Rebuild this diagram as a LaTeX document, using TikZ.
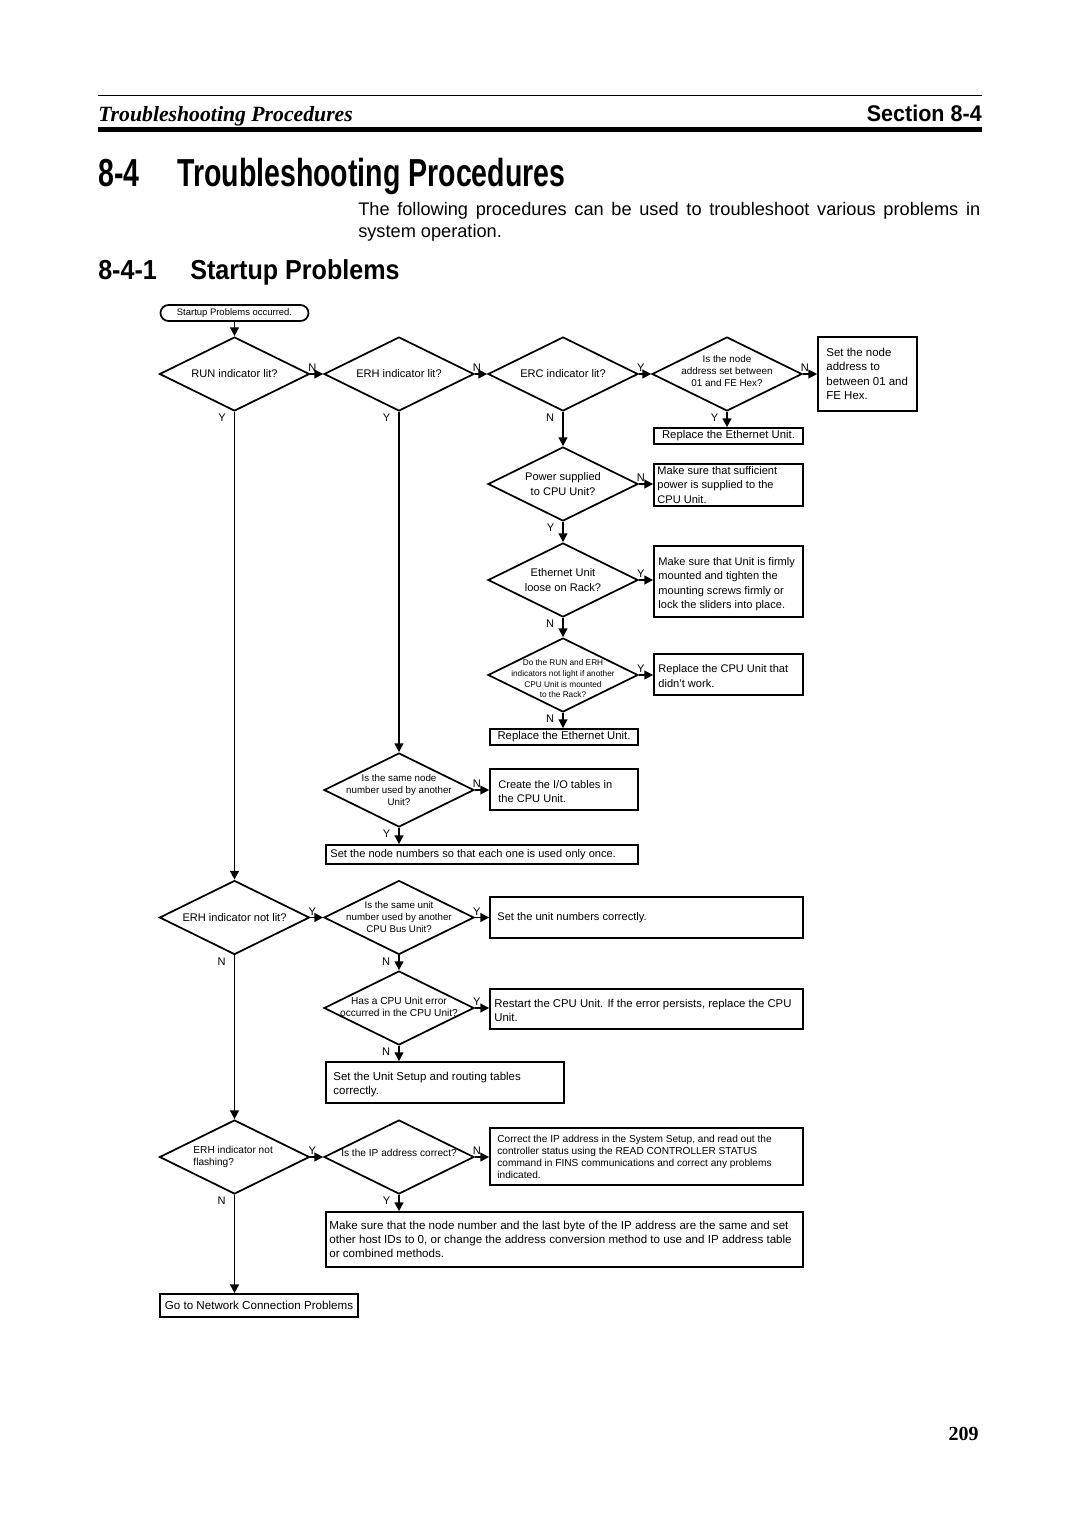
\documentclass[tikz,border=0pt]{standalone}
\usepackage{fontspec}
\setmainfont{Liberation Sans}
\newfontfamily\serifit{Liberation Serif}
\newfontfamily\condA[FakeStretch=0.73]{Liberation Sans}
\newfontfamily\condB[FakeStretch=0.95]{Liberation Sans}
\newfontfamily\condC[FakeStretch=0.915]{Liberation Sans}
\usetikzlibrary{arrows.meta,shapes.geometric}
\newcommand\fs[2]{\fontsize{#1pt}{#2pt}\selectfont}
\tikzset{
  dia/.style={diamond, draw, line width=1.3pt, inner sep=0pt, minimum width=112.5pt, minimum height=55.5pt},
  bx/.style={rectangle, draw, line width=1.3pt, inner sep=0pt},
  arr/.style={line width=1.3pt, -{Triangle[length=6.5pt,width=6.5pt]}},
  ln/.style={line width=1.3pt},
  lr/.style={anchor=south, inner sep=1pt, xshift=1.5pt, font=\fs{8.3}{10}},
  lb/.style={anchor=north east, inner sep=1pt, xshift=-5pt, font=\fs{8.3}{10}},
  dt/.style={anchor=center, align=center, inner sep=0pt, font=\fs{8.3}{10.9}},
  tl/.style={anchor=west, align=left, inner sep=0pt, font=\fs{8.3}{10.9}},
  tc/.style={anchor=center, align=center, inner sep=0pt, font=\fs{8.3}{10.9}},
}
\begin{document}
\begin{tikzpicture}[x=0.75pt,y=-0.75pt]
\fill[white] (0,0) rectangle (1080,1528);
\useasboundingbox (0,0) rectangle (1080,1528);

% ---------- page header ----------
\draw[line width=1.2pt] (98,95.5) -- (982,95.5);
\node[anchor=base west, inner sep=0pt] (hdr) at (98,121.7) {\serifit\bfseries\itshape\fs{16.3}{20}Troubleshooting Procedures};
\node[anchor=base east, inner sep=0pt] (sec) at (982,121.7) {\condB\bfseries\fs{17}{20}Section 8-4};
\draw[line width=4.1pt] (98,129.5) -- (982,129.5);

\node[anchor=base west, inner sep=0pt] (tnum) at (98,186.7) {\condA\bfseries\fs{29.3}{34}8-4};
\node[anchor=base west, inner sep=0pt] (ttl) at (177,186.7) {\condA\bfseries\fs{29.3}{34}Troubleshooting Procedures};

\node[anchor=base west, inner sep=0pt] (para) at (358,215) {\parbox[t]{466.5pt}{\fs{13.65}{16.5}\hyphenpenalty=10000 The following procedures can be used to troubleshoot various problems in\linebreak system operation.}};

\node[anchor=base west, inner sep=0pt] (snum) at (98,279) {\condC\bfseries\fs{20.6}{24}8-4-1};
\node[anchor=base west, inner sep=0pt] (sttl) at (190,279) {\condC\bfseries\fs{20.6}{24}Startup Problems};

% ---------- flowchart nodes ----------
\node[bx, rounded corners=6pt, minimum width=111pt, minimum height=12pt,
  label={[tc, font=\fs{7.1}{8}]center:Startup Problems occurred.}] (start) at (234.5,313) {};

\node[dia, label={[dt]center:RUN indicator lit?}] (run) at (234.5,374) {};
\node[dia, label={[dt]center:ERH indicator lit?}] (erh) at (399,374) {};
\node[dia, label={[dt]center:ERC indicator lit?}] (erc) at (563,374) {};
\node[dia, label={[dt, font=\fs{7.4}{9}, yshift=2.6pt]center:Is the node\\address set between\\01 and FE Hex?}] (isnode) at (727,374) {};
\node[bx, minimum width=74.25pt, minimum height=55.5pt,
  label={[tl, xshift=6.75pt, font=\fs{8.6}{10.9}]west:Set the node\\address to\\between 01 and\\FE Hex.}] (setaddr) at (867.5,374) {};
\node[bx, minimum width=111.75pt, minimum height=12pt,
  label={[tc, font=\fs{8.5}{10}]center:Replace the Ethernet Unit.}] (repl1) at (728.5,436) {};

\node[dia, label={[dt]center:Power supplied\\to CPU Unit?}] (power) at (563,484) {};
\node[bx, minimum width=111.75pt, minimum height=31.5pt,
  label={[tl, xshift=3pt]west:Make sure that sufficient\\power is supplied to the\\CPU Unit.}] (pwrbox) at (728.5,485) {};

\node[dia, label={[dt]center:Ethernet Unit\\loose on Rack?}] (loose) at (563,580) {};
\node[bx, minimum width=111.75pt, minimum height=53.25pt,
  label={[tl, xshift=3.75pt, yshift=-2pt]west:Make sure that Unit is firmly\\mounted and tighten the\\mounting screws firmly or\\lock the sliders into place.}] (mountbox) at (728.5,581.5) {};

\node[dia, label={[dt, font=\fs{6.2}{8}, yshift=-3pt]center:Do the RUN and ERH\\indicators not light if another\\CPU Unit is mounted\\to the Rack?}] (dorun) at (563,675) {};
\node[bx, minimum width=111.75pt, minimum height=30.75pt,
  label={[tl, xshift=3.75pt, yshift=-1pt]west:Replace the CPU Unit that\\didn't work.}] (cpubox) at (728.5,674.5) {};
\node[bx, minimum width=111pt, minimum height=12pt,
  label={[tc, font=\fs{8.5}{10}]center:Replace the Ethernet Unit.}] (repl2) at (564,737) {};

\node[dia, label={[dt, font=\fs{7.3}{9}]center:Is the same node\\number used by another\\Unit?}] (samenode) at (399,790) {};
\node[bx, minimum width=111pt, minimum height=30.75pt,
  label={[tl, xshift=6.75pt, yshift=-1.5pt]west:Create the I/O tables in\\the CPU Unit.}] (iobox) at (564,789.5) {};
\node[bx, minimum width=234pt, minimum height=14.25pt,
  label={[tl, xshift=3.75pt]west:Set the node numbers so that each one is used only once.}] (setnode) at (482,854.5) {};

\node[dia, label={[dt]center:ERH indicator not lit?}] (erhnot) at (234.5,917.5) {};
\node[dia, label={[dt, font=\fs{7.3}{9}]center:Is the same unit\\number used by another\\CPU Bus Unit?}] (sameunit) at (399,917.5) {};
\node[bx, minimum width=234.75pt, minimum height=30.75pt,
  label={[tl, xshift=6pt]west:Set the unit numbers correctly.}] (unitbox) at (646.5,917.5) {};

\node[dia, label={[dt, font=\fs{7.6}{9}, yshift=1pt]center:Has a CPU Unit error\\occurred in the CPU Unit?}] (cpuerr) at (399,1008) {};
\node[bx, minimum width=234.75pt, minimum height=30pt,
  label={[tl, xshift=3.75pt, yshift=-1pt, font=\fs{8.5}{10.5}]west:Restart the CPU Unit. If the error persists, replace the CPU\\Unit.}] (restart) at (646.5,1009) {};
\node[bx, minimum width=178.5pt, minimum height=30.75pt,
  label={[tl, xshift=6pt, yshift=-1.5pt, font=\fs{8.6}{10.9}]west:Set the Unit Setup and routing tables\\correctly.}] (setup) at (445,1082.5) {};

\node[dia, label={[dt, align=left, anchor=west, xshift=25.9pt, font=\fs{7.6}{9}]west:ERH indicator not\\flashing?}] (flash) at (234.5,1157) {};
\node[dia, label={[dt, font=\fs{7.6}{9}, yshift=3pt]center:Is the IP address correct?}] (ipok) at (399,1157) {};
\node[bx, minimum width=234.75pt, minimum height=42.75pt,
  label={[tl, xshift=6pt, font=\fs{7.6}{9}]west:Correct the IP address in the System Setup, and read out the\\controller status using the READ CONTROLLER STATUS\\command in FINS communications and correct any problems\\indicated.}] (correct) at (646.5,1156.5) {};
\node[bx, minimum width=357.75pt, minimum height=41.25pt,
  label={[tl, xshift=3pt, font=\fs{8.7}{10.5}]west:Make sure that the node number and the last byte of the IP address are the same and set\\other host IDs to 0, or change the address conversion method to use and IP address table\\or combined methods.}] (makesure) at (564.5,1239.5) {};
\node[bx, minimum width=148.5pt, minimum height=17.25pt,
  label={[tc, font=\fs{8.7}{10}]center:Go to Network Connection Problems}] (goto) at (259,1305.5) {};

% ---------- connectors ----------
\draw[arr] (start.south) -- (run.north);
\draw[arr] (run.east) -- node[lr, pos=0]{N} (erh.west);
\draw[arr] (erh.east) -- node[lr, pos=0]{N} (erc.west);
\draw[arr] (erc.east) -- node[lr, pos=0]{Y} (isnode.west);
\draw[arr] (isnode.east) -- node[lr, pos=0]{N} (isnode.east -| setaddr.west);
\draw[arr] (isnode.south) -- node[lb, pos=0]{Y} (isnode.south |- repl1.north);
\draw[arr] (erc.south) -- node[lb, pos=0]{N} (power.north);
\draw[arr] (power.east) -- node[lr, pos=0]{N} (power.east -| pwrbox.west);
\draw[arr] (power.south) -- node[lb, pos=0]{Y} (loose.north);
\draw[arr] (loose.east) -- node[lr, pos=0]{Y} (loose.east -| mountbox.west);
\draw[arr] (loose.south) -- node[lb, pos=0]{N} (dorun.north);
\draw[arr] (dorun.east) -- node[lr, pos=0]{Y} (dorun.east -| cpubox.west);
\draw[arr] (dorun.south) -- node[lb, pos=0]{N} (dorun.south |- repl2.north);

\draw[arr] (erh.south) -- node[lb, pos=0]{Y} (samenode.north);
\draw[arr] (samenode.east) -- node[lr, pos=0]{N} (samenode.east -| iobox.west);
\draw[arr] (samenode.south) -- node[lb, pos=0]{Y} (samenode.south |- setnode.north);

\draw[arr] (run.south) -- node[lb, pos=0]{Y} (erhnot.north);
\draw[arr] (erhnot.east) -- node[lr, pos=0]{Y} (sameunit.west);
\draw[arr] (sameunit.east) -- node[lr, pos=0]{Y} (sameunit.east -| unitbox.west);
\draw[arr] (sameunit.south) -- node[lb, pos=0]{N} (cpuerr.north);
\draw[arr] (cpuerr.east) -- node[lr, pos=0]{Y} (cpuerr.east -| restart.west);
\draw[arr] (cpuerr.south) -- node[lb, pos=0]{N} (cpuerr.south |- setup.north);

\draw[arr] (erhnot.south) -- node[lb, pos=0]{N} (flash.north);
\draw[arr] (flash.east) -- node[lr, pos=0]{Y} (ipok.west);
\draw[arr] (ipok.east) -- node[lr, pos=0]{N} (ipok.east -| correct.west);
\draw[arr] (ipok.south) -- node[lb, pos=0]{Y} (ipok.south |- makesure.north);
\draw[arr] (flash.south) -- node[lb, pos=0]{N} (flash.south |- goto.north);

% ---------- page number ----------
\node[anchor=base east, inner sep=0pt] (pg) at (979,1440) {\serifit\bfseries\fs{15}{18}209};
\end{tikzpicture}
\end{document}
